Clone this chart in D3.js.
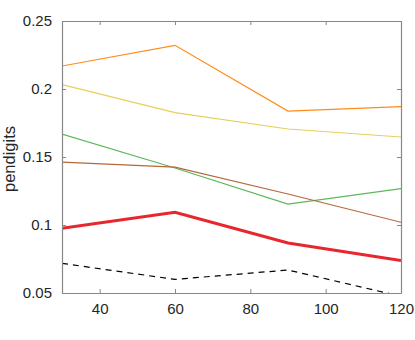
<!DOCTYPE html>
<html><head><meta charset="utf-8">
<script src="https://cdn.jsdelivr.net/npm/d3@7"></script>
<style>body{margin:0;background:#fff;} text{font-family:"Liberation Sans",Arial,sans-serif;}</style>
</head><body>
<svg id="c" width="415" height="340"></svg>
<script>
const xValues = [30, 60, 90, 120];
const orange = [0.2169, 0.2321, 0.1838, 0.1870];
const yellow = [0.2032, 0.1826, 0.1706, 0.1647];
const green  = [0.1669, 0.1419, 0.1154, 0.1267];
const brown  = [0.1463, 0.1426, 0.1228, 0.1020];
const red    = [0.0976, 0.1093, 0.0868, 0.0738];
const black  = [0.0718, 0.0600, 0.0669, 0.0476];
const xTicks = [40, 60, 80, 100, 120];
const yTicks = [0.05, 0.1, 0.15, 0.2, 0.25];
const yLabel = "pendigits";

const series = [
  {v: orange, color: "#ff8c1a", w: 1.2, dash: null},
  {v: yellow, color: "#e6cf5c", w: 1.2, dash: null},
  {v: green,  color: "#5cb85a", w: 1.2, dash: null},
  {v: brown,  color: "#b5673a", w: 1.2, dash: null},
  {v: red,    color: "#e8262e", w: 3, dash: null},
  {v: black,  color: "#000000", w: 1.2, dash: "6,5"}
];

const L = 62, R = 401, T = 21, B = 293;
const svg = d3.select("#c");
const x = d3.scaleLinear().domain([30, 120]).range([L, R]);
const y = d3.scaleLinear().domain([0.05, 0.25]).range([B, T]);

svg.append("defs").append("clipPath").attr("id", "clip")
  .append("rect").attr("x", L).attr("y", T).attr("width", R - L).attr("height", B - T);

const line = d3.line().x((d, i) => x(xValues[i])).y(d => y(d));
const g = svg.append("g").attr("clip-path", "url(#clip)");
series.forEach(s => {
  g.append("path").attr("d", line(s.v)).attr("fill", "none")
    .attr("stroke", s.color).attr("stroke-width", s.w)
    .attr("stroke-dasharray", s.dash);
});

const axisColor = "#888";
const fmtY = d => d3.format("")(+d.toFixed(2));
function style(sel, labels) {
  sel.select(".domain").attr("stroke", axisColor).attr("stroke-width", 1.2);
  sel.selectAll(".tick line").attr("stroke", axisColor);
  sel.selectAll(".tick text").attr("fill", labels ? "#262626" : "none")
    .style("font-size", "15px").style("font-family", "Liberation Sans, Arial, sans-serif");
}
const xa = svg.append("g").attr("transform", `translate(0,${B})`)
  .call(d3.axisBottom(x).tickValues(xTicks).tickSize(-4).tickSizeOuter(0).tickPadding(10));
style(xa, true);
const xt = svg.append("g").attr("transform", `translate(0,${T})`)
  .call(d3.axisTop(x).tickValues(xTicks).tickSize(-4).tickSizeOuter(0).tickFormat(""));
style(xt, false);
const ya = svg.append("g").attr("transform", `translate(${L},0)`)
  .call(d3.axisLeft(y).tickValues(yTicks).tickSize(-4).tickSizeOuter(0).tickPadding(10).tickFormat(fmtY));
style(ya, true);
const yr = svg.append("g").attr("transform", `translate(${R},0)`)
  .call(d3.axisRight(y).tickValues(yTicks).tickSize(-4).tickSizeOuter(0).tickFormat(""));
style(yr, false);

svg.append("text").attr("transform", `translate(15,${(T + B) / 2 + 2}) rotate(-90)`)
  .attr("text-anchor", "middle").attr("fill", "#262626").style("font-size", "16.5px")
  .text(yLabel);
</script>
</body></html>
